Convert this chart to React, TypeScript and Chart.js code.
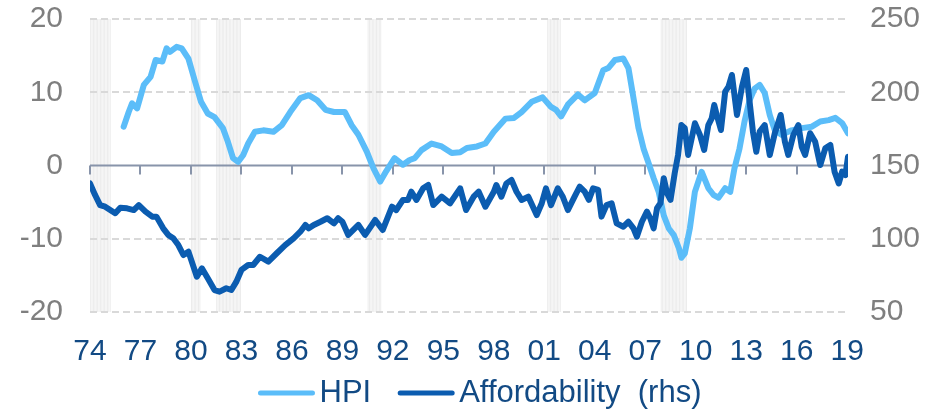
import React, { useEffect, useRef } from 'react';
import { Chart, registerables } from 'chart.js';

Chart.register(...registerables);

// ---- Data ----
const hpiYears = [
  1976.0, 1976.3, 1976.5, 1976.8, 1977.2, 1977.6, 1977.9, 1978.3, 1978.55, 1978.75,
  1979.15, 1979.45, 1979.85, 1980.25, 1980.6, 1981.0, 1981.4, 1981.9, 1982.2, 1982.5,
  1982.8, 1983.1, 1983.4, 1983.8, 1984.3, 1984.9, 1985.4, 1985.9, 1986.5, 1987.0,
  1987.5, 1988.0, 1988.5, 1989.15, 1989.55, 1989.95, 1990.45, 1990.85, 1991.25, 1991.6,
  1992.1, 1992.6, 1993.0, 1993.3, 1993.7, 1994.3, 1994.9, 1995.5, 1996.0, 1996.4,
  1997.0, 1997.5, 1998.0, 1998.7, 1999.2, 1999.65, 2000.25, 2000.9, 2001.4, 2001.7,
  2002.0, 2002.4, 2003.0, 2003.4, 2004.0, 2004.5, 2004.8, 2005.2, 2005.7, 2006.0,
  2006.3, 2006.6, 2006.9, 2007.2, 2007.5, 2007.8, 2008.1, 2008.4, 2008.7, 2009.0,
  2009.15, 2009.35, 2009.65, 2009.95, 2010.35, 2010.75, 2011.05, 2011.35, 2011.75, 2012.05,
  2012.3, 2012.6, 2012.9, 2013.2, 2013.5, 2013.8, 2014.1, 2014.4, 2014.7, 2015.1,
  2015.7, 2016.3, 2016.9, 2017.4, 2017.9, 2018.3, 2018.7, 2019.05,
];
const hpiValues = [
  5.3, 7.3, 8.5, 7.8, 11.0, 12.1, 14.4, 14.2, 16.0, 15.5,
  16.2, 16.0, 14.6, 11.4, 8.7, 7.1, 6.6, 5.1, 3.2, 1.0,
  0.5, 1.4, 3.0, 4.6, 4.8, 4.6, 5.5, 7.3, 9.2, 9.6,
  8.9, 7.6, 7.3, 7.3, 5.5, 4.2, 1.9, -0.4, -2.2, -0.8,
  1.0, 0.1, 0.75, 1.0, 2.1, 3.0, 2.6, 1.7, 1.8, 2.4,
  2.6, 3.0, 4.6, 6.4, 6.5, 7.3, 8.7, 9.3, 8.0, 7.6,
  6.7, 8.3, 9.7, 8.9, 9.9, 13.0, 13.3, 14.4, 14.6, 13.3,
  9.2, 5.1, 2.3, 0.3, -1.75, -3.6, -6.8, -8.6, -9.5, -11.3,
  -12.6, -12.0, -8.6, -3.6, -0.85, -3.1, -4.0, -4.4, -3.1, -3.6,
  -0.4, 2.3, 6.0, 8.9, 10.5, 11.0, 9.9, 6.9, 4.8, 4.2,
  4.8, 5.1, 5.3, 6.0, 6.2, 6.5, 5.8, 4.4,
];

const affYears = [
  1974.0, 1974.3, 1974.6, 1974.9, 1975.2, 1975.5, 1975.8, 1976.2, 1976.6, 1976.9,
  1977.3, 1977.7, 1977.95, 1978.35, 1978.65, 1978.95, 1979.25, 1979.55, 1979.85, 1980.35,
  1980.65, 1981.0, 1981.4, 1981.7, 1982.1, 1982.4, 1982.7, 1983.0, 1983.4, 1983.7,
  1984.1, 1984.6, 1985.1, 1985.6, 1986.1, 1986.5, 1986.8, 1987.0, 1987.3, 1987.7,
  1988.1, 1988.5, 1988.75, 1989.0, 1989.35, 1989.95, 1990.35, 1990.95, 1991.4, 1991.95,
  1992.2, 1992.6, 1992.9, 1993.1, 1993.4, 1993.8, 1994.1, 1994.4, 1994.9, 1995.4,
  1996.0, 1996.35, 1996.8, 1997.1, 1997.5, 1998.0, 1998.15, 1998.45, 1998.75, 1999.05,
  1999.35, 1999.65, 2000.05, 2000.55, 2000.85, 2001.1, 2001.4, 2001.8, 2002.1, 2002.4,
  2002.8, 2003.1, 2003.4, 2003.65, 2003.9, 2004.2, 2004.4, 2004.7, 2005.0, 2005.3,
  2005.7, 2006.0, 2006.3, 2006.5, 2006.8, 2007.1, 2007.3, 2007.5, 2007.7, 2007.9,
  2008.1, 2008.3, 2008.5, 2008.75, 2008.95, 2009.15, 2009.35, 2009.55, 2009.95, 2010.25,
  2010.5, 2010.75, 2010.95, 2011.1, 2011.25, 2011.5, 2011.75, 2011.95, 2012.15, 2012.45,
  2012.75, 2013.0, 2013.2, 2013.4, 2013.6, 2013.8, 2014.1, 2014.4, 2014.7, 2015.05,
  2015.3, 2015.5, 2015.8, 2016.1, 2016.3, 2016.5, 2016.8, 2017.1, 2017.4, 2017.7,
  2018.0, 2018.25, 2018.5, 2018.7, 2018.9, 2019.05,
];
const affValues = [
  137.8, 129.9, 123.0, 121.9, 119.6, 117.4, 121.2, 120.8, 119.6, 123.0,
  118.5, 115.1, 115.1, 107.1, 102.6, 100.3, 95.7, 88.9, 91.2, 74.1,
  79.8, 73.0, 65.0, 63.9, 66.2, 65.0, 70.7, 78.7, 82.1, 82.1,
  87.7, 84.4, 90.1, 95.7, 100.3, 104.8, 109.4, 107.1, 109.4, 111.6,
  114.0, 110.5, 114.0, 111.6, 102.6, 109.4, 102.6, 112.8, 106.0, 121.9,
  119.6, 126.5, 126.5, 132.1, 126.5, 134.4, 136.7, 123.0, 128.7, 124.2,
  134.4, 119.6, 128.7, 132.1, 121.9, 132.1, 136.7, 128.7, 137.8, 140.1,
  132.1, 126.5, 128.7, 116.2, 124.2, 134.4, 123.0, 134.4, 128.7, 119.6,
  128.7, 135.5, 132.1, 126.5, 134.4, 133.3, 115.1, 123.0, 124.2, 110.5,
  108.2, 111.6, 107.1, 101.4, 111.6, 118.5, 114.0, 107.1, 120.8, 124.2,
  141.3, 131.0, 126.5, 144.7, 157.2, 177.6, 175.4, 157.2, 178.8, 170.8,
  160.6, 177.6, 182.2, 191.3, 184.5, 174.2, 200.4, 203.8, 211.8, 184.5,
  203.8, 215.2, 193.6, 173.1, 159.4, 173.1, 177.6, 157.2, 172.0, 184.5,
  166.2, 157.2, 170.8, 177.6, 162.8, 157.2, 172.0, 166.2, 150.3, 161.7,
  164.0, 145.8, 137.8, 145.8, 143.5, 156.0,
];

// Recession periods (shaded)
const recessionStarts = [1973.84, 1980.0, 1981.5, 1990.5, 2001.17, 2007.92];
const recessionEnds = [1975.25, 1980.58, 1982.92, 1991.25, 2001.92, 2009.5];

const seriesLabels = ['HPI', 'Affordability  (rhs)'];

const X_MIN = 1974;
const X_MAX = 2019.05;
const X_STEP = 3;
const L_MIN = -20, L_MAX = 20, L_STEP = 10;
const R_MIN = 50, R_MAX = 250, R_STEP = 50;

// ---- Styles ----
const HPI_COLOR = '#5bbdf9';
const AFF_COLOR = '#0b5cb0';
const AXIS_COLOR = '#8894aa';
const GRID_COLOR = '#d9d9d9';
const Y_LABEL_COLOR = '#7f7f7f';
const X_LABEL_COLOR = '#124a84';
const FONT = '"Liberation Sans", Arial, sans-serif';

const recessionPlugin = {
  id: 'recessions',
  beforeDraw(chart: any) {
    const { ctx, chartArea } = chart;
    const xs = chart.scales.x;
    ctx.save();
    ctx.beginPath();
    ctx.rect(chartArea.left, chartArea.top, chartArea.right - chartArea.left, chartArea.bottom - chartArea.top);
    ctx.clip();
    ctx.fillStyle = '#ececec';
    for (let i = 0; i < recessionStarts.length; i++) {
      for (let m = recessionStarts[i]; m <= recessionEnds[i] + 1e-6; m += 1 / 12) {
        const px = xs.getPixelForValue(m);
        ctx.fillRect(px, chartArea.top, 1, chartArea.bottom - chartArea.top);
      }
    }
    ctx.restore();
  },
};

const zeroAxisPlugin = {
  id: 'zeroAxis',
  beforeDatasetsDraw(chart: any) {
    const { ctx, chartArea } = chart;
    const xs = chart.scales.x;
    const y0 = chart.scales.yL.getPixelForValue(0);
    ctx.save();
    ctx.strokeStyle = AXIS_COLOR;
    ctx.lineWidth = 2;
    ctx.beginPath();
    ctx.moveTo(chartArea.left, y0);
    ctx.lineTo(chartArea.right, y0);
    ctx.stroke();
    xs.ticks.forEach((t: any) => {
      const px = Math.round(xs.getPixelForValue(t.value));
      ctx.beginPath();
      ctx.moveTo(px, y0);
      ctx.lineTo(px, y0 + 9);
      ctx.stroke();
    });
    ctx.restore();
  },
};

const legendPlugin = {
  id: 'customLegend',
  afterDraw(chart: any) {
    const { ctx } = chart;
    const colors = [HPI_COLOR, AFF_COLOR];
    const lineLen = 56;
    const gapText = 5;
    const gapItem = 27;
    const centerX = 480;
    const y = 393;
    ctx.save();
    ctx.font = `31px ${FONT}`;
    ctx.textBaseline = 'middle';
    const widths = seriesLabels.map((l) => ctx.measureText(l).width);
    const total = widths.reduce((a, w) => a + lineLen + gapText + w, 0) + gapItem * (seriesLabels.length - 1);
    let x = centerX - total / 2;
    seriesLabels.forEach((label, i) => {
      ctx.strokeStyle = colors[i];
      ctx.lineWidth = 5;
      ctx.lineCap = 'round';
      ctx.beginPath();
      ctx.moveTo(x + 2, y);
      ctx.lineTo(x + lineLen - 2, y);
      ctx.stroke();
      x += lineLen + gapText;
      ctx.fillStyle = X_LABEL_COLOR;
      ctx.fillText(label, x, y);
      x += widths[i] + gapItem;
    });
    ctx.restore();
  },
};

export default function App() {
  const canvasRef = useRef<HTMLCanvasElement | null>(null);

  useEffect(() => {
    if (!canvasRef.current) return;
    const chart = new Chart(canvasRef.current, {
      type: 'line',
      data: {
        datasets: [
          {
            label: seriesLabels[0],
            data: hpiYears.map((x, i) => ({ x, y: hpiValues[i] })),
            yAxisID: 'yL',
            borderColor: HPI_COLOR,
            backgroundColor: HPI_COLOR,
            borderWidth: 6,
            pointRadius: 0,
            tension: 0,
            borderJoinStyle: 'round',
            borderCapStyle: 'round',
            order: 1,
          },
          {
            label: seriesLabels[1],
            data: affYears.map((x, i) => ({ x, y: affValues[i] })),
            yAxisID: 'yR',
            borderColor: AFF_COLOR,
            backgroundColor: AFF_COLOR,
            borderWidth: 6,
            pointRadius: 0,
            tension: 0,
            borderJoinStyle: 'round',
            borderCapStyle: 'round',
            order: 0,
          },
        ],
      },
      options: {
        animation: false,
        responsive: false,
        maintainAspectRatio: false,
        devicePixelRatio: 1,
        layout: { padding: { top: 19, bottom: 52, left: 0, right: 0 } },
        plugins: {
          legend: { display: false },
          tooltip: { enabled: false },
        },
        scales: {
          x: {
            type: 'linear',
            position: 'bottom',
            min: X_MIN,
            max: X_MAX,
            grid: { display: false, drawTicks: false },
            border: { display: false },
            ticks: {
              stepSize: X_STEP,
              includeBounds: false,
              autoSkip: false,
              maxRotation: 0,
              minRotation: 0,
              padding: 22,
              color: X_LABEL_COLOR,
              font: { family: FONT, size: 30 },
              callback: (v: any) => String(Math.round(Number(v)) % 100).padStart(2, '0'),
            },
            afterFit: (s: any) => { s.height = 50; s.paddingLeft = 0; s.paddingRight = 0; },
          },
          yL: {
            position: 'left',
            min: L_MIN,
            max: L_MAX,
            grid: {
              drawTicks: false,
              lineWidth: 2,
              color: (c: any) => (c.tick && c.tick.value === 0 ? 'rgba(0,0,0,0)' : GRID_COLOR),
            },
            border: { display: false, dash: [7, 4] },
            ticks: {
              stepSize: L_STEP,
              padding: 27,
              color: Y_LABEL_COLOR,
              font: { family: FONT, size: 30 },
            },
            afterFit: (s: any) => { s.width = 90; s.paddingTop = 0; s.paddingBottom = 0; },
          },
          yR: {
            position: 'right',
            min: R_MIN,
            max: R_MAX,
            grid: { display: false, drawTicks: false },
            border: { display: false },
            ticks: {
              stepSize: R_STEP,
              padding: 22,
              color: Y_LABEL_COLOR,
              font: { family: FONT, size: 30 },
            },
            afterFit: (s: any) => { s.width = 87; s.paddingTop = 0; s.paddingBottom = 0; },
          },
        },
      },
      plugins: [recessionPlugin, zeroAxisPlugin, legendPlugin],
    } as any);
    return () => chart.destroy();
  }, []);

  return (
    <div style={{ position: 'fixed', left: 0, top: 0, width: 935, height: 414, background: '#fff' }}>
      <canvas ref={canvasRef} width={935} height={414} style={{ display: 'block', width: 935, height: 414 }} />
    </div>
  );
}
